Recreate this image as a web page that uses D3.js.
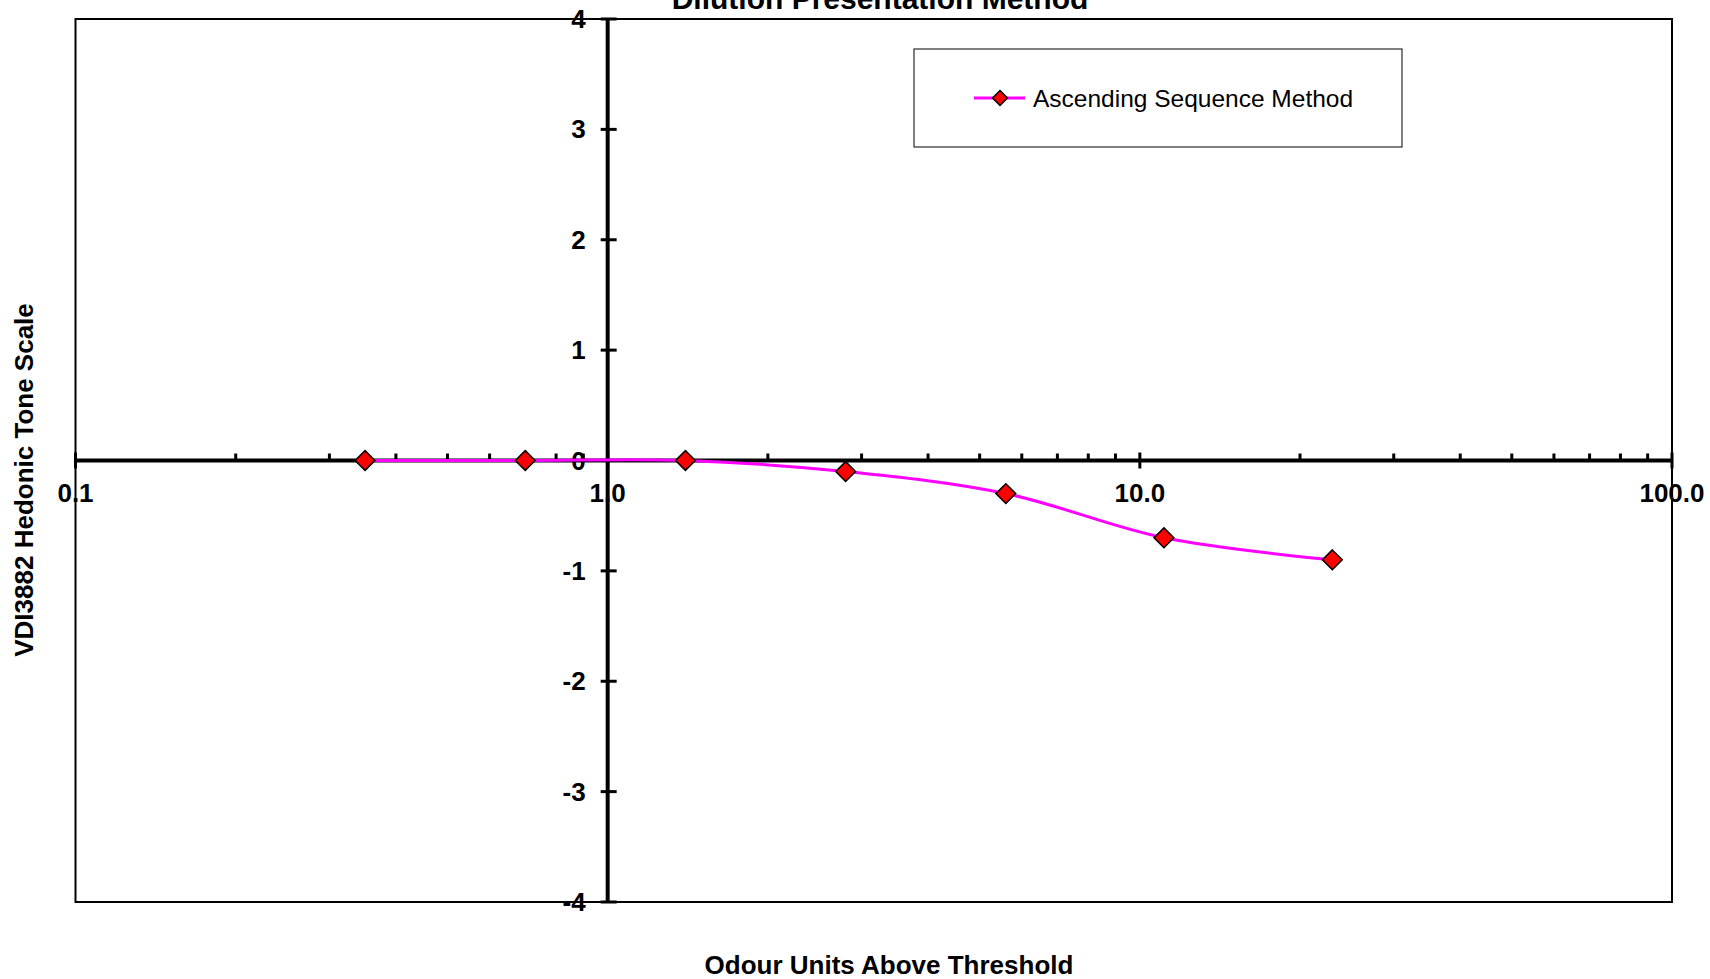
<!DOCTYPE html>
<html>
<head>
<meta charset="utf-8">
<script src="https://cdn.jsdelivr.net/npm/d3@7"></script>
<style>
  body { margin: 0; background: #fff; }
  svg { display: block; font-family: "Liberation Sans", Arial, sans-serif; }
</style>
</head>
<body>
<svg id="chart" width="1710" height="979"></svg>
<script>
// odour units vs hedonic tone
const odourUnits = [0.35, 0.7, 1.4, 2.8, 5.6, 11.1, 23];
const hedonicTone = [0, 0, 0, -0.1, -0.3, -0.7, -0.9];
const xMajorTicks = [0.1, 1, 10, 100];
const yTicks = [-4, -3, -2, -1, 0, 1, 2, 3, 4];
const seriesName = "Ascending Sequence Method";

const margin = { top: 19, right: 38, bottom: 77, left: 75.5 };
const width = 1710 - margin.left - margin.right;
const height = 979 - margin.top - margin.bottom;

const svg = d3.select('#chart');
const g = svg.append('g')
  .attr('transform', `translate(${margin.left}, ${margin.top})`);

const x = d3.scaleLog()
  .domain([0.1, 100])
  .range([0, width]);

const y = d3.scaleLinear()
  .domain([-4, 4])
  .range([height, 0]);

// plot border
g.append('rect')
  .attr('x', 0).attr('y', 0)
  .attr('width', width).attr('height', height)
  .attr('fill', 'none')
  .attr('stroke', '#000')
  .attr('stroke-width', 2);

// minor ticks for x (2..9 in each decade), pointing up
const minorTicks = [];
for (let d = 0.1; d < 100; d *= 10) {
  for (let k = 2; k <= 9; k++) minorTicks.push(+(d * k).toFixed(3));
}

const xAxis = g.append('g')
  .attr('transform', `translate(0, ${y(0)})`);

xAxis.append('line')
  .attr('x1', 0).attr('x2', width)
  .attr('stroke', '#000').attr('stroke-width', 4);

xAxis.selectAll('.minor')
  .data(minorTicks)
  .enter()
  .append('line')
  .attr('class', 'minor')
  .attr('x1', d => x(d)).attr('x2', d => x(d))
  .attr('y1', 0).attr('y2', -7)
  .attr('stroke', '#000').attr('stroke-width', 3);

xAxis.selectAll('.major')
  .data(xMajorTicks)
  .enter()
  .append('line')
  .attr('class', 'major')
  .attr('x1', d => x(d)).attr('x2', d => x(d))
  .attr('y1', -8).attr('y2', 8)
  .attr('stroke', '#000').attr('stroke-width', 3);

xAxis.selectAll('text')
  .data(xMajorTicks)
  .enter()
  .append('text')
  .attr('x', d => x(d))
  .attr('y', 41)
  .attr('text-anchor', 'middle')
  .attr('font-size', 26)
  .attr('font-weight', 'bold')
  .text(d => d3.format('.1f')(d));

// y axis sits at x = 1
const yAxis = g.append('g')
  .attr('transform', `translate(${x(1)}, 0)`);

yAxis.append('line')
  .attr('y1', 0).attr('y2', height)
  .attr('stroke', '#000').attr('stroke-width', 4);

yAxis.selectAll('.tick')
  .data(yTicks)
  .enter()
  .append('line')
  .attr('class', 'tick')
  .attr('x1', -7).attr('x2', 9)
  .attr('y1', d => y(d)).attr('y2', d => y(d))
  .attr('stroke', '#000').attr('stroke-width', 3);

yAxis.selectAll('text')
  .data(yTicks)
  .enter()
  .append('text')
  .attr('x', -22)
  .attr('y', d => y(d) + 9)
  .attr('text-anchor', 'end')
  .attr('font-size', 26)
  .attr('font-weight', 'bold')
  .text(d => d);

// series
const points = odourUnits.map((v, i) => ({ x: v, y: hedonicTone[i] }));

const line = d3.line()
  .x(d => x(d.x))
  .y(d => y(d.y))
  .curve(d3.curveCatmullRom.alpha(0.5));

g.append('path')
  .datum(points)
  .attr('d', line)
  .attr('fill', 'none')
  .attr('stroke', '#ff00ff')
  .attr('stroke-width', 3);

const diamond = d3.symbol().type(d3.symbolDiamond2).size(250);

g.selectAll('.pt')
  .data(points)
  .enter()
  .append('path')
  .attr('class', 'pt')
  .attr('d', diamond)
  .attr('transform', d => `translate(${x(d.x)}, ${y(d.y)})`)
  .attr('fill', '#ff0000')
  .attr('stroke', '#000')
  .attr('stroke-width', 1.5);

// legend
const legend = svg.append('g')
  .attr('transform', 'translate(914, 49)');

legend.append('rect')
  .attr('width', 488).attr('height', 98)
  .attr('fill', '#fff')
  .attr('stroke', '#000')
  .attr('stroke-width', 1);

legend.append('line')
  .attr('x1', 60).attr('x2', 111)
  .attr('y1', 49).attr('y2', 49)
  .attr('stroke', '#ff00ff').attr('stroke-width', 3);

legend.append('path')
  .attr('d', d3.symbol().type(d3.symbolDiamond2).size(140))
  .attr('transform', 'translate(86, 49)')
  .attr('fill', '#ff0000')
  .attr('stroke', '#000')
  .attr('stroke-width', 1.5);

legend.append('text')
  .attr('x', 119)
  .attr('y', 58)
  .attr('font-size', 24.5)
  .text(seriesName);

// titles
svg.append('text')
  .attr('x', 880)
  .attr('y', 9)
  .attr('text-anchor', 'middle')
  .attr('font-size', 30)
  .attr('font-weight', 'bold')
  .text('Dilution Presentation Method');

svg.append('text')
  .attr('x', 889)
  .attr('y', 974)
  .attr('text-anchor', 'middle')
  .attr('font-size', 26)
  .attr('font-weight', 'bold')
  .text('Odour Units Above Threshold');

svg.append('text')
  .attr('transform', 'translate(33, 480) rotate(-90)')
  .attr('text-anchor', 'middle')
  .attr('font-size', 26)
  .attr('font-weight', 'bold')
  .text('VDI3882 Hedonic Tone Scale');
</script>
</body>
</html>
